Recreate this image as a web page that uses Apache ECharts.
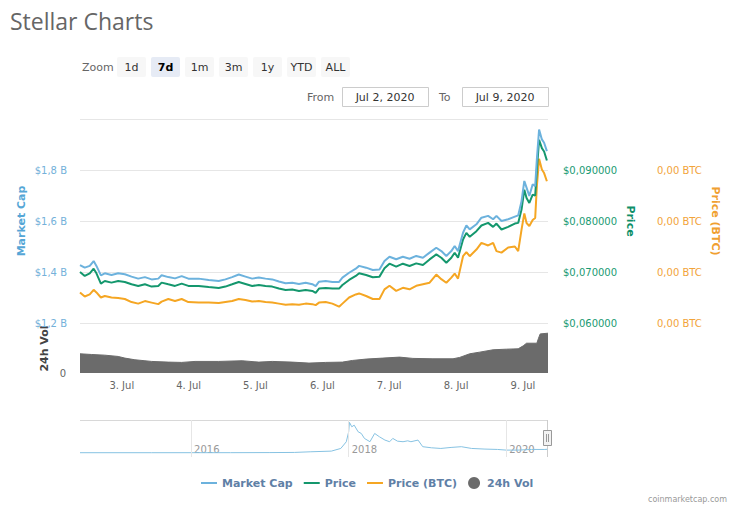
<!DOCTYPE html>
<html>
<head>
<meta charset="utf-8">
<script src="https://cdn.jsdelivr.net/npm/echarts@6/dist/echarts.min.js"></script>
<style>
html,body{margin:0;padding:0;background:#fff;}
#chart{width:736px;height:506px;}
</style>
</head>
<body>
<div id="chart"></div>
<script>
// ---- data ----
// hours after Jul 2, 2020 09:00 (local)
const lineHours = [0,1.7,3.5,4.9,5.9,7.5,8.9,11.3,13.7,16.1,
  18.5,20.9,23.3,25.7,28.1,29.3,31.7,34.1,36.5,38.9,
  42.6,46.2,49.8,52.2,54.6,57.0,59.4,61.8,64.2,66.6,
  69.0,71.4,73.8,76.2,78.6,81.0,83.4,84.6,85.8,88.2,
  90.6,93.0,94.2,96.6,99.0,100.2,102.7,105.1,107.5,109.3,
  111.1,113.5,115.9,118.3,120.7,123.1,125.5,127.9,129.7,131.5,
  133.3,134.5,135.7,137.5,138.7,139.9,142.3,144.1,146.5,148.3,
  149.5,151.3,153.7,156.1,157.3,158.5,159.5,160.3,161.3,162.5,
  163.4,164.0,164.8,165.8,166.6,167.6];
// Market cap, billions USD
const marketCap = [1.427,1.417,1.424,1.443,1.424,1.387,1.395,1.388,1.395,1.391,
  1.382,1.374,1.380,1.371,1.374,1.387,1.380,1.375,1.384,1.374,
  1.374,1.369,1.365,1.371,1.380,1.390,1.382,1.374,1.378,1.374,
  1.371,1.363,1.356,1.358,1.353,1.358,1.352,1.345,1.362,1.365,
  1.361,1.361,1.378,1.397,1.413,1.424,1.417,1.408,1.410,1.443,
  1.460,1.450,1.460,1.452,1.463,1.456,1.476,1.495,1.482,1.463,
  1.482,1.502,1.482,1.554,1.583,1.567,1.587,1.613,1.620,1.607,
  1.620,1.600,1.607,1.617,1.622,1.678,1.757,1.731,1.698,1.744,
  1.737,1.842,1.959,1.920,1.907,1.874];
// Price, USD
const priceUsd = [0.07000,0.06922,0.06974,0.07065,0.06974,0.06772,0.06824,0.06792,0.06824,0.06805,
  0.06759,0.06727,0.06759,0.06714,0.06727,0.06792,0.06759,0.06727,0.06772,0.06727,
  0.06727,0.06707,0.06688,0.06714,0.06759,0.06805,0.06766,0.06727,0.06746,0.06727,
  0.06714,0.06675,0.06648,0.06655,0.06629,0.06648,0.06629,0.06590,0.06675,0.06688,
  0.06675,0.06675,0.06746,0.06844,0.06922,0.06974,0.06941,0.06896,0.06909,0.07072,
  0.07163,0.07104,0.07163,0.07117,0.07169,0.07137,0.07247,0.07345,0.07280,0.07182,
  0.07280,0.07378,0.07280,0.07638,0.07768,0.07690,0.07801,0.07911,0.07963,0.07885,
  0.07950,0.07833,0.07885,0.07950,0.07963,0.08224,0.08615,0.08452,0.08354,0.08517,
  0.08497,0.09005,0.09591,0.09428,0.09363,0.09187];
// Price in satoshi (1e-8 BTC)
const priceSat = [660,652,656,665,660,650,653,650,649,647,
  641,638,643,640,637,642,647,643,647,641,
  640,640,639,641,643,647,645,642,643,641,
  640,638,636,637,636,638,637,635,640,641,
  638,632,638,650,656,658,653,647,647,666,
  673,663,669,666,673,676,679,695,686,679,
  689,697,687,731,739,731,744,757,752,757,
  741,738,748,750,741,783,815,796,790,802,
  806,868,922,901,894,878];
// 24h volume, millions USD
const volHours = [0,4.1,8.9,13.7,16.1,19.7,23.3,25.7,31.7,36.5,41.3,49.8,58.2,64.2,69.0,76.2,82.2,88.2,94.2,97.8,
  102.7,108.7,114.7,119.5,126.7,133.9,136.3,139.9,143.5,148.3,153.1,157.3,159.1,160.3,164.0,164.6,165.2,168];
const volume = [196,189,182,169,152,135,125,118,111,108,118,118,125,111,118,111,101,108,111,128,
  142,152,162,149,145,145,159,196,213,237,243,247,277,304,304,355,399,406];
// navigator: all-time market cap (decimal year, billions)
const navYears = [2014.59,2015.5,2016.5,2017.0,2017.31,2017.52,2017.78,2017.90,2017.97,2018.00,
  2018.01,2018.04,2018.07,2018.12,2018.16,2018.20,2018.27,2018.33,2018.39,2018.46,
  2018.52,2018.56,2018.62,2018.69,2018.75,2018.79,2018.88,2018.94,2019.05,2019.17,
  2019.30,2019.43,2019.56,2019.73,2019.89,2020.00,2020.15,2020.32,2020.49,2020.52];
const navCap = [0.03,0.03,0.05,0.1,0.18,0.54,0.9,2.35,5.97,11.4,
  16.5,14.1,15.0,11.4,10.5,7.8,6.0,10.5,8.7,6.9,
  6.0,7.8,6.3,6.0,6.5,6.0,6.9,3.3,2.7,2.35,
  2.9,3.3,2.35,2.0,1.8,1.45,1.45,1.8,1.8,1.9];
const navYearTicks = [2016, 2018, 2020];
const zoomButtons = ['1d','7d','1m','3m','1y','YTD','ALL'];
const selectedButton = '7d';
const fromDate = 'Jul 2, 2020';
const toDate = 'Jul 9, 2020';

// ---- build ----
const START = new Date(2020, 6, 2, 9, 0, 0).getTime();
const HOUR = 3600000;
const END = START + 168 * HOUR;
const pts = (hrs, vals) => hrs.map((h, i) => [START + h * HOUR, vals[i]]);
const FONT = '"DejaVu Sans", Verdana, sans-serif';
const LINE_ICON = 'path://M0,0L0,0M0,5L16,5L16,7L0,7ZM16,12L16,12';

const graphics = [];
graphics.push({type:'text', x:10, y:21, style:{text:'Stellar Charts', font:'23px "Open Sans"', fill:'#666', align:'left', verticalAlign:'middle'}});
graphics.push({type:'text', x:82, y:67, style:{text:'Zoom', font:'11px ' + FONT, fill:'#666', align:'left', verticalAlign:'middle'}});
zoomButtons.forEach((b, i) => {
  const x = 117 + i * 34;
  const sel = b === selectedButton;
  graphics.push({type:'rect', shape:{x:x, y:57, width:29, height:20, r:2}, style:{fill: sel ? '#e6ebf5' : '#f7f7f7', stroke:'none'}});
  graphics.push({type:'text', x:x + 14.5, y:67, style:{text:b, font:(sel ? 'bold ' : '') + '11px ' + FONT, fill: sel ? '#000' : '#333', align:'center', verticalAlign:'middle'}});
});
graphics.push({type:'text', x:307, y:97, style:{text:'From', font:'11px ' + FONT, fill:'#666', align:'left', verticalAlign:'middle'}});
graphics.push({type:'rect', shape:{x:342.5, y:87.5, width:86, height:19}, style:{fill:'#fff', stroke:'#cccccc', lineWidth:1}});
graphics.push({type:'text', x:385, y:97, style:{text:fromDate, font:'11px ' + FONT, fill:'#333', align:'center', verticalAlign:'middle'}});
graphics.push({type:'text', x:439, y:97, style:{text:'To', font:'11px ' + FONT, fill:'#666', align:'left', verticalAlign:'middle'}});
graphics.push({type:'rect', shape:{x:462.5, y:87.5, width:86, height:19}, style:{fill:'#fff', stroke:'#cccccc', lineWidth:1}});
graphics.push({type:'text', x:505, y:97, style:{text:toDate, font:'11px ' + FONT, fill:'#333', align:'center', verticalAlign:'middle'}});
// navigator outline + handle
graphics.push({type:'line', shape:{x1:80, y1:420.5, x2:548, y2:420.5}, style:{stroke:'#d8d8d8', lineWidth:1}});
graphics.push({type:'line', shape:{x1:547.5, y1:420, x2:547.5, y2:457}, style:{stroke:'#cccccc', lineWidth:1}});
graphics.push({type:'rect', shape:{x:543.5, y:430.5, width:8, height:15}, style:{fill:'#f2f2f2', stroke:'#999', lineWidth:1}});
graphics.push({type:'line', shape:{x1:546.5, y1:434, x2:546.5, y2:442}, style:{stroke:'#999', lineWidth:1}});
graphics.push({type:'line', shape:{x1:548.5, y1:434, x2:548.5, y2:442}, style:{stroke:'#999', lineWidth:1}});
graphics.push({type:'text', x:727, y:499, style:{text:'coinmarketcap.com', font:'8px ' + FONT, fill:'#999', align:'right', verticalAlign:'middle'}});

const chart = echarts.init(document.getElementById('chart'), null, {renderer:'svg'});
chart.setOption({
  animation:false,
  backgroundColor:'#fff',
  textStyle:{fontFamily:FONT},
  graphic:graphics,
  legend:{
    left:196, top:472, itemWidth:16, itemHeight:12, itemGap:11,
    data:[
      {name:'Market Cap', icon:LINE_ICON},
      {name:'Price', icon:LINE_ICON},
      {name:'Price (BTC)', icon:LINE_ICON},
      {name:'24h Vol', icon:'circle'}
    ],
    textStyle:{color:'#5f80a6', fontWeight:'bold', fontSize:11, fontFamily:FONT}
  },
  grid:[
    {left:80, right:188, top:119, height:204, outerBoundsMode:'none'},
    {left:80, right:188, top:324, height:49, outerBoundsMode:'none'},
    {left:80, right:188, top:420, height:37, outerBoundsMode:'none'}
  ],
  xAxis:[
    {type:'time', gridIndex:0, min:START, max:END, show:false},
    {type:'time', gridIndex:1, min:START, max:END, minInterval:86400000, maxInterval:86400000,
      axisLine:{show:false}, axisTick:{show:false}, splitLine:{show:false},
      axisLabel:{color:'#666', fontSize:10, margin:7, fontFamily:FONT,
        formatter:function(v){ const d = new Date(v); return (d.getHours()===0 && d.getMinutes()===0) ? d.getDate() + '. Jul' : ''; }}},
    {type:'value', gridIndex:2, min:2014.59, max:2020.53,
      axisLine:{show:false}, axisTick:{show:false}, splitLine:{show:false},
      axisLabel:{inside:true, customValues:navYearTicks, formatter:function(v){return String(v);}, align:'left', padding:[0,0,0,3], margin:3, color:'#999', fontSize:10, fontFamily:FONT, showMinLabel:true, showMaxLabel:true}}
  ],
  yAxis:[
    {type:'value', gridIndex:0, position:'left', min:1.2, max:2.0, interval:0.2,
      axisLine:{show:false}, axisTick:{show:false},
      splitLine:{lineStyle:{color:'#e6e6e6', width:1}},
      axisLabel:{formatter:function(v){return '$' + v.toFixed(1).replace('.', ',') + ' B';}, color:'#74b1da', fontSize:10, margin:13, showMaxLabel:false, fontFamily:FONT},
      name:'Market Cap', nameLocation:'middle', nameGap:53, nameMoveOverlap:false,
      nameTextStyle:{color:'#55a6d6', fontWeight:'bold', fontSize:11, fontFamily:FONT}},
    {type:'value', gridIndex:0, position:'right', min:0.06, max:0.10, interval:0.01,
      axisLine:{show:false}, axisTick:{show:false}, splitLine:{show:false},
      axisLabel:{formatter:function(v){return '$' + v.toFixed(6).replace('.', ',');}, color:'#1a9a73', fontSize:10, margin:15, showMaxLabel:false, fontFamily:FONT},
      name:'Price', nameLocation:'middle', nameGap:77, nameRotate:-90, nameMoveOverlap:false,
      nameTextStyle:{color:'#0f8f68', fontWeight:'bold', fontSize:11, fontFamily:FONT}},
    {type:'value', gridIndex:0, position:'right', offset:94, min:600, max:1000, interval:100,
      axisLine:{show:false}, axisTick:{show:false}, splitLine:{show:false},
      axisLabel:{formatter:function(v){return (v * 1e-8).toFixed(2).replace('.', ',') + ' BTC';}, color:'#f2a43a', fontSize:10, margin:15, showMaxLabel:false, fontFamily:FONT},
      name:'Price (BTC)', nameLocation:'middle', nameGap:68, nameRotate:-90, nameMoveOverlap:false,
      nameTextStyle:{color:'#f0a030', fontWeight:'bold', fontSize:11, fontFamily:FONT}},
    {type:'value', gridIndex:1, min:0, max:500, interval:500,
      axisLine:{show:false}, axisTick:{show:false}, splitLine:{show:false},
      axisLabel:{color:'#666', fontSize:10, margin:14, showMaxLabel:false, fontFamily:FONT},
      name:'24h Vol', nameLocation:'middle', nameGap:30, nameMoveOverlap:false,
      nameTextStyle:{color:'#444', fontWeight:'bold', fontSize:11, fontFamily:FONT}},
    {type:'value', gridIndex:2, min:-2.3, max:17.8, show:false}
  ],
  series:[
    {name:'24h Vol', type:'line', xAxisIndex:1, yAxisIndex:3, data:pts(volHours, volume),
      symbol:'none', color:'#6b6b6b', lineStyle:{width:1, color:'#6b6b6b'}, areaStyle:{color:'#6b6b6b', opacity:1}},
    {name:'Price (BTC)', type:'line', xAxisIndex:0, yAxisIndex:2, data:pts(lineHours, priceSat),
      symbol:'none', color:'#f5a623', lineStyle:{width:2, color:'#f5a623'}},
    {name:'Price', type:'line', xAxisIndex:0, yAxisIndex:1, data:pts(lineHours, priceUsd),
      symbol:'none', color:'#14976d', lineStyle:{width:2, color:'#14976d'}},
    {name:'Market Cap', type:'line', xAxisIndex:0, yAxisIndex:0, data:pts(lineHours, marketCap),
      symbol:'none', color:'#6cb2dd', lineStyle:{width:2, color:'#6cb2dd'}},
    {name:'nav', type:'line', xAxisIndex:2, yAxisIndex:4, data:navYears.map((y, i) => [y, navCap[i]]),
      symbol:'none', color:'#86c2e2', lineStyle:{width:1, color:'#86c2e2'}, silent:true,
      markLine:{silent:true, symbol:['none','none'], label:{show:false},
        lineStyle:{color:'#e6e6e6', type:'solid', width:1},
        data:navYearTicks.map(y => ({xAxis:y}))}}
  ]
});
</script>
</body>
</html>
